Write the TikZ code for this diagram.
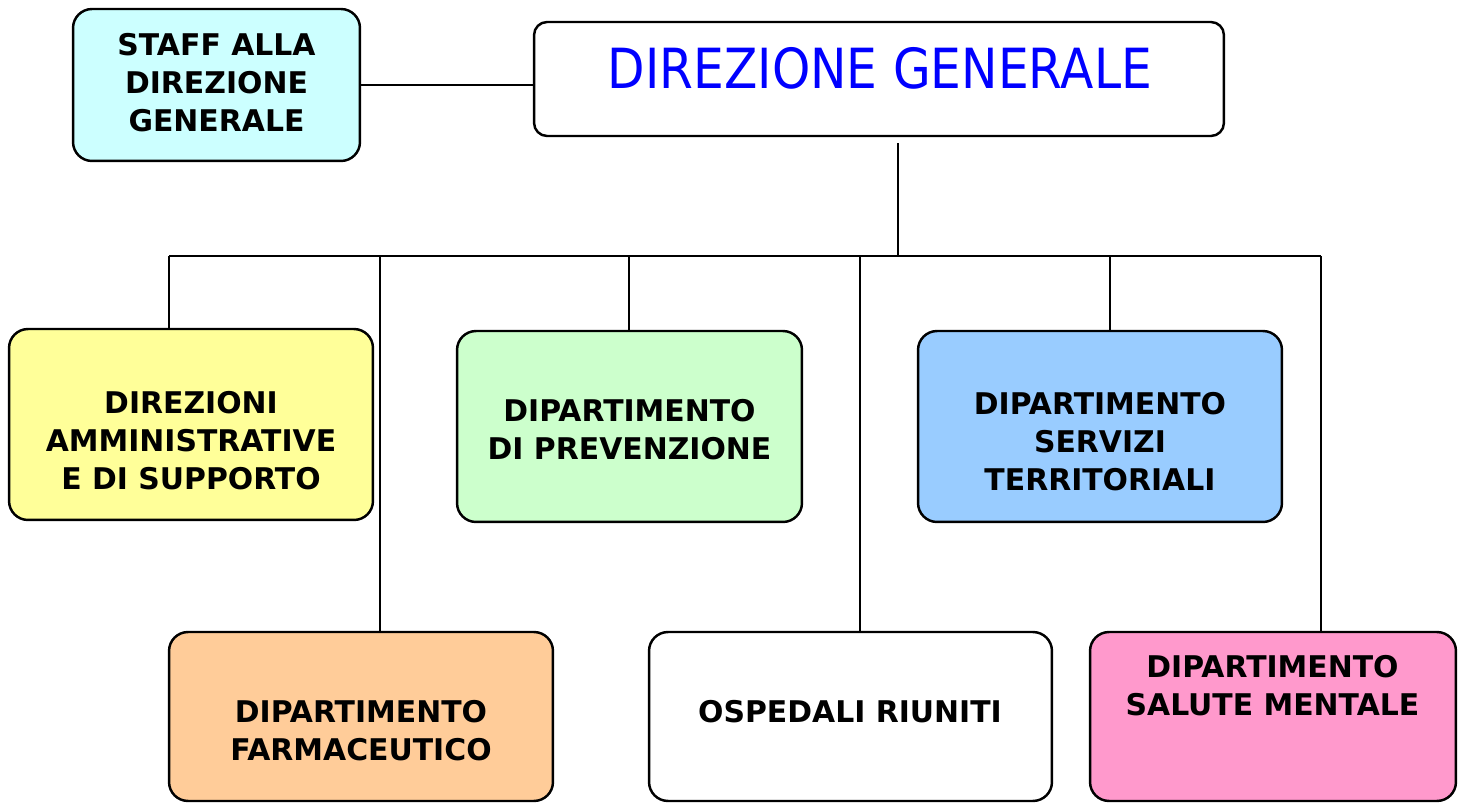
\documentclass[tikz,border=0pt]{standalone}
\usepackage{fontspec}
\setmainfont{DejaVu Sans}
\newfontfamily\dgfont[FakeStretch=0.88]{DejaVu Sans}
\usepackage{tikz}
\usepackage{xcolor}

\definecolor{staffcol}{HTML}{CCFFFF}
\definecolor{ammcol}{HTML}{FFFF99}
\definecolor{prevcol}{HTML}{CCFFCC}
\definecolor{terrcol}{HTML}{99CCFF}
\definecolor{farmcol}{HTML}{FFCC99}
\definecolor{salcol}{HTML}{FF99CC}

\begin{document}
\begin{tikzpicture} [x=0.02cm, y=-0.02cm,
	box/.style={draw=black, line width=1.4pt, rounded corners=0.38cm, inner sep=0pt},
	lbl/.style={font=\bfseries\fontsize{17}{21.6}\selectfont, align=center, inner sep=0pt},
	link/.style={draw=black, line width=1.3pt}]
	\useasboundingbox (0,0) rectangle (1465,803);
	% boxes
	\node [box, fill=staffcol, minimum width=5.74cm, minimum height=3.04cm] (staff) at (216.5,85) {};
	\node [box, fill=white, rounded corners=0.26cm, minimum width=13.8cm, minimum height=2.28cm] (dg) at (879,79) {};
	\node [box, fill=ammcol, minimum width=7.28cm, minimum height=3.82cm] (amm) at (191,424.5) {};
	\node [box, fill=prevcol, minimum width=6.9cm, minimum height=3.82cm] (prev) at (629.5,426.5) {};
	\node [box, fill=terrcol, minimum width=7.28cm, minimum height=3.82cm] (terr) at (1100,426.5) {};
	\node [box, fill=farmcol, minimum width=7.68cm, minimum height=3.38cm] (farm) at (361,716.5) {};
	\node [box, fill=white, minimum width=8.06cm, minimum height=3.38cm] (osp) at (850.5,716.5) {};
	\node [box, fill=salcol, minimum width=7.32cm, minimum height=3.38cm] (sal) at (1273,716.5) {};
	% texts
	\node [lbl] (stafftxt) at (216.5,83) {STAFF ALLA\\DIREZIONE\\GENERALE};
	\node [inner sep=0pt, text=blue, font=\dgfont\fontsize{31.5}{36}\selectfont] (dgtxt) at (880,68) {DIREZIONE GENERALE};
	\node [lbl] (ammtxt) at (191,441) {DIREZIONI\\AMMINISTRATIVE\\E DI SUPPORTO};
	\node [lbl] (prevtxt) at (629.5,430) {DIPARTIMENTO\\DI PREVENZIONE};
	\node [lbl] (terrtxt) at (1100,442) {DIPARTIMENTO\\SERVIZI\\TERRITORIALI};
	\node [lbl] (farmtxt) at (361,730.5) {DIPARTIMENTO\\FARMACEUTICO};
	\node [lbl] (osptxt) at (850,712) {OSPEDALI RIUNITI};
	\node [lbl] (saltxt) at (1272.5,686) {DIPARTIMENTO\\SALUTE MENTALE};
	% bus
	\coordinate (jn) at (898,256);
	\coordinate (b1) at (169,256);
	\coordinate (b2) at (380,256);
	\coordinate (b3) at (629,256);
	\coordinate (b4) at (860,256);
	\coordinate (b5) at (1110,256);
	\coordinate (b6) at (1321,256);
	\draw [link] (staff.east) -- (staff.east -| dg.west);
	\draw [link] ([yshift=-0.12cm]jn |- dg.south) -- (jn);
	\draw [link] (b1) -- (b6);
	\draw [link] (b1) -- (b1 |- amm.north);
	\draw [link] (b2) -- (b2 |- farm.north);
	\draw [link] (b3) -- (b3 |- prev.north);
	\draw [link] (b4) -- (b4 |- osp.north);
	\draw [link] (b5) -- (b5 |- terr.north);
	\draw [link] (b6) -- (b6 |- sal.north);
\end{tikzpicture}
\end{document}
